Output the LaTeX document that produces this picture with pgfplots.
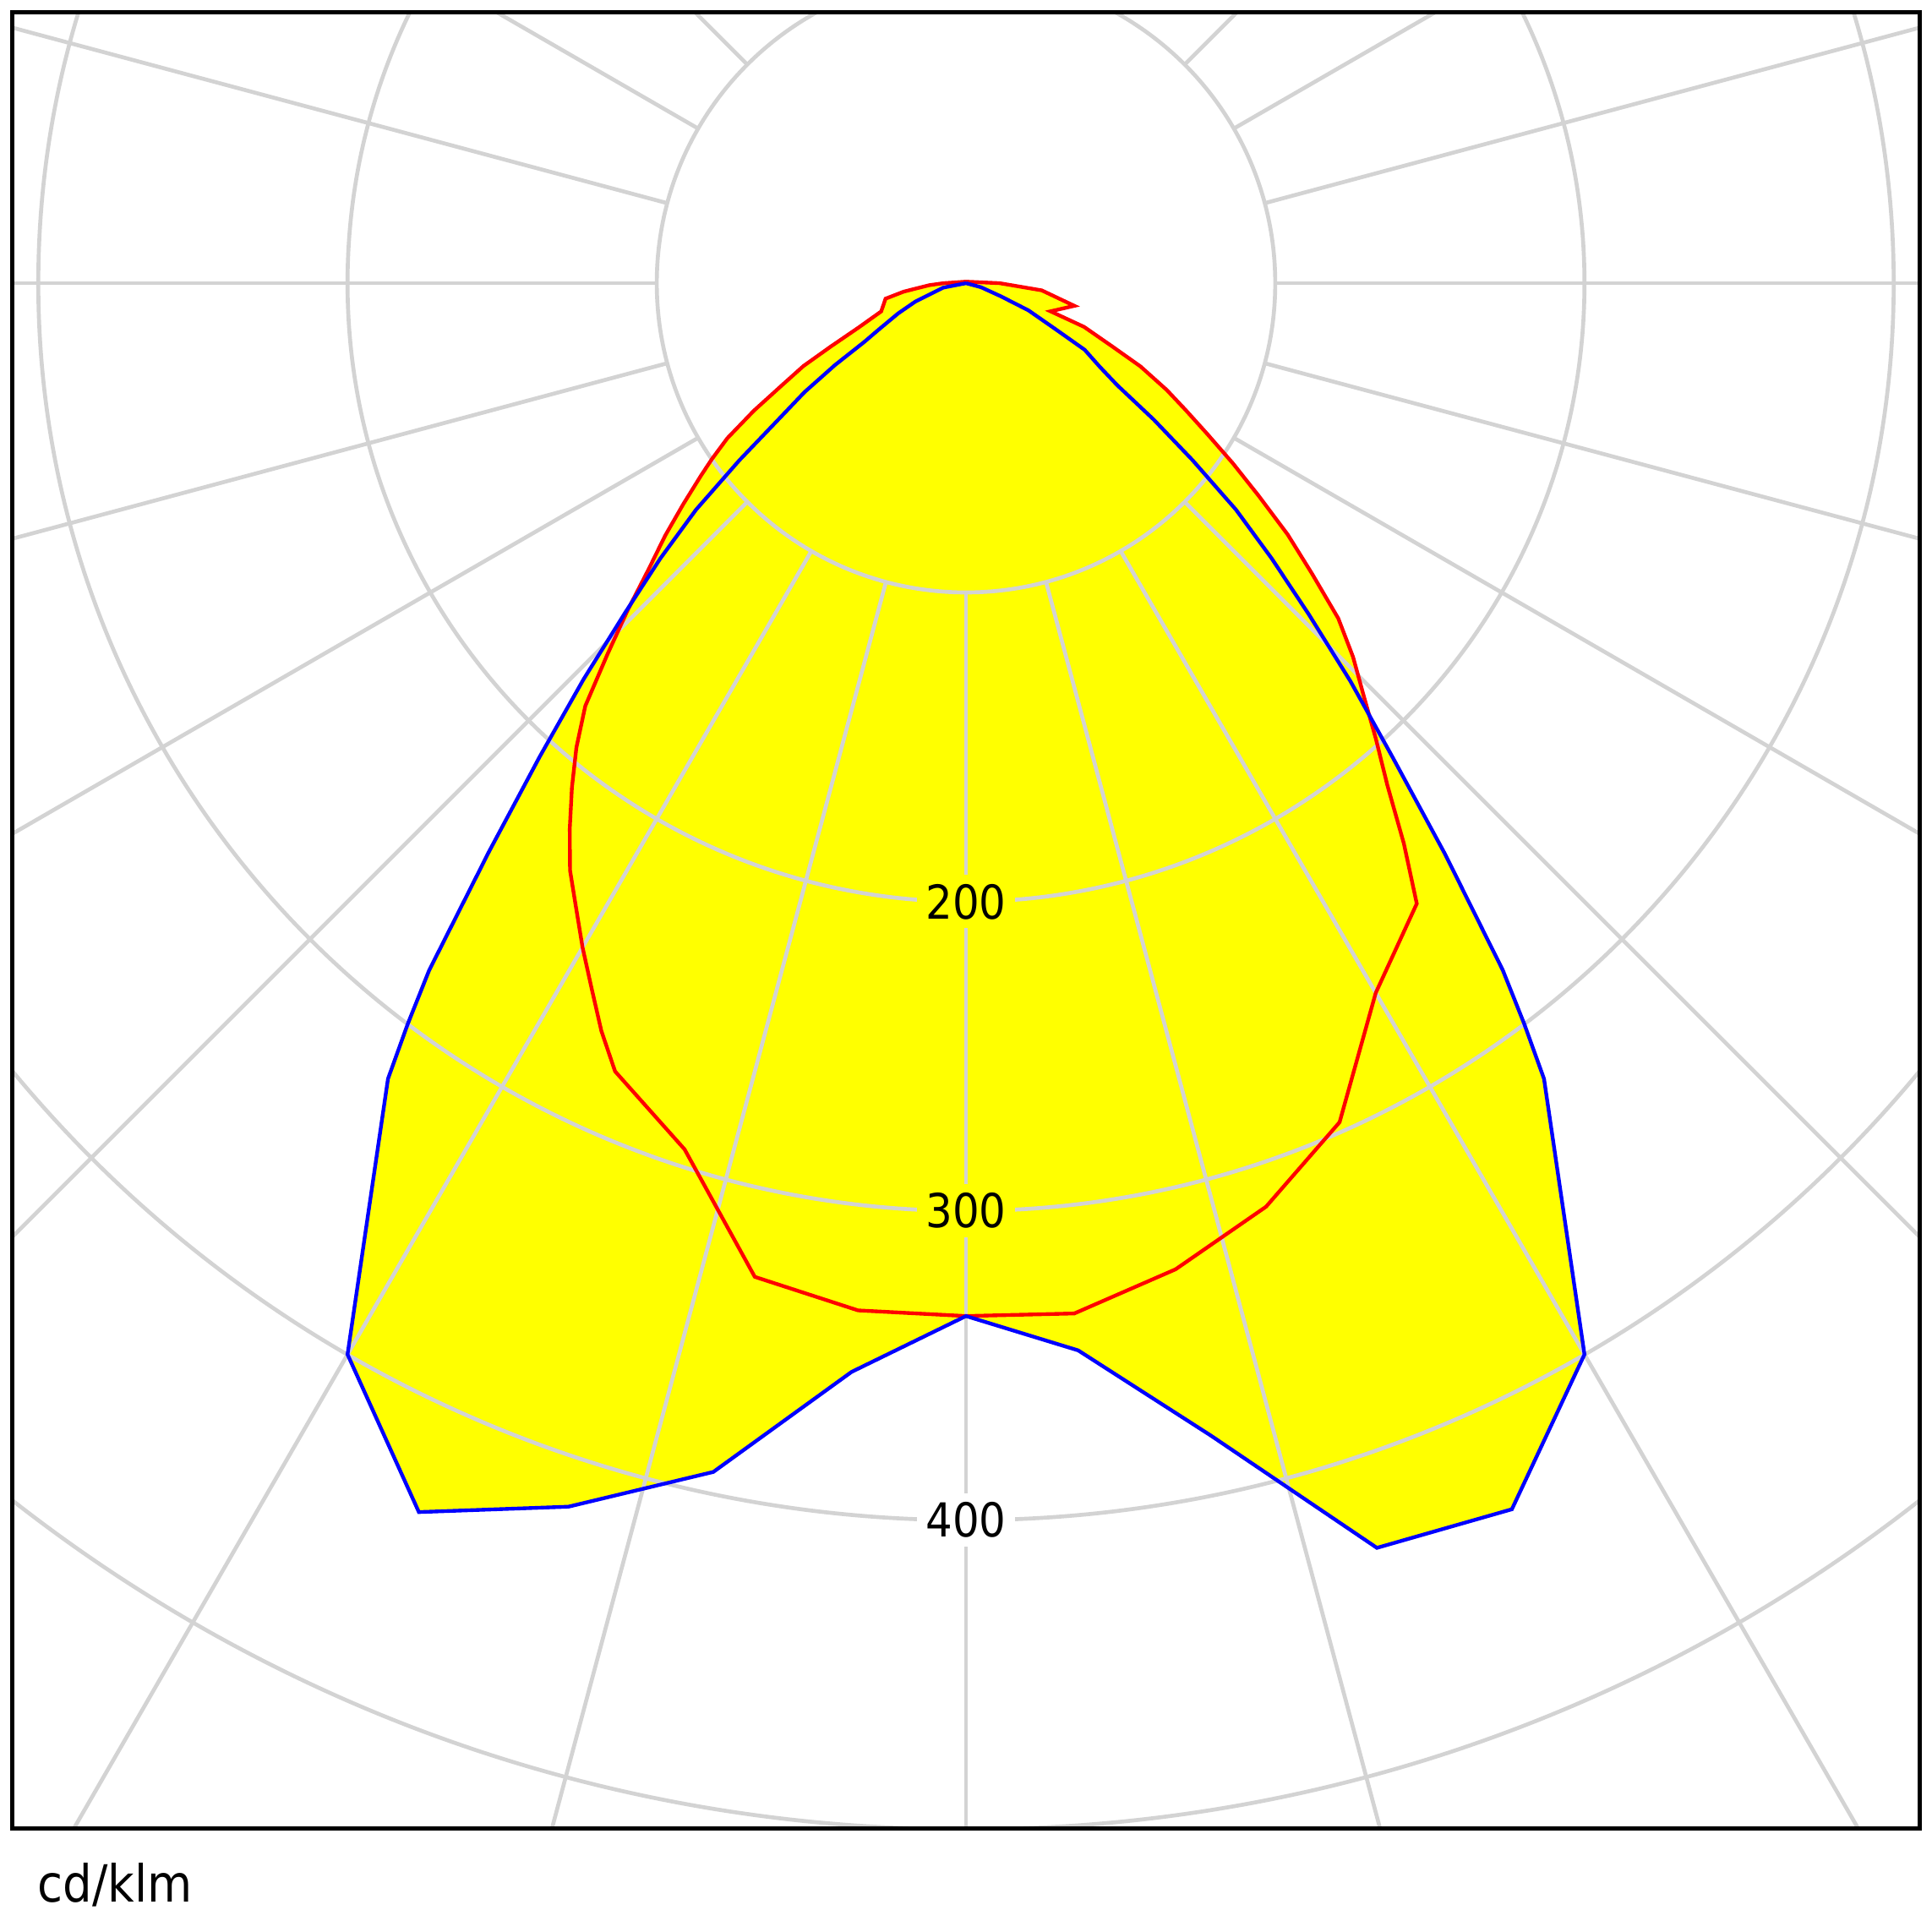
\documentclass[border=0pt]{standalone}
\usepackage{fontspec}
\setmainfont{DejaVu Sans Condensed}
\usepackage{pgfplots}
\pgfplotsset{compat=1.18}
\usepackage{pgfplotstable}
\definecolor{gridc}{RGB}{211,211,211}
\definecolor{yel}{RGB}{255,255,0}
\definecolor{rd}{RGB}{255,0,0}
\definecolor{bl}{RGB}{0,0,255}

% angle from nadir (negative = left half), intensity in cd/klm
\pgfplotstableread{
a r
-90 0
-79 7.5
-70 17.5
-66 24
-62 32
-60 38
-58 50
-56 63
-54 75
-52 93
-50 114
-48 133
-46 153
-44 178
-42 206
-40 240
-38 282
-37 300
-36 318
-30 400
-24 435
-18 416
-12 393
-6 354
0 334
6 347
12 381
18 430
24 434
30 400
36 318
37 300
38 282
40 241
42 206
44 179
46 154
48 133
50 114
52 93
54 75
56 59
58 51
60.7 44
62.7 33
66.5 22
69.4 12
75 5
90 0
}\blueC

\pgfplotstableread{
a r
-180 0.5
-90 7.3
-86.9 11.9
-82.3 20.3
-79.1 26.5
-71.6 28.9
-67.6 37.5
-64.9 48.3
-63 59
-61 68
-59 80
-57 92
-55.3 100
-54 106
-52 116
-50 127
-48 138
-46 152
-44 167
-42 184
-40 196
-38 207
-36 218
-34 229
-32 238
-30 248
-28 258
-26 269
-24 279
-18 294.5
-12 328.5
-6 334
0 334
6 335
12 326
18 314
24 297
30 265
36 248
38 230
40 212
42 198
44 185
46 174
48 162
50 146
52 132
54 117
56 104
58 92
60 82
62 73.5
64.5 62.5
66.6 51.6
69.7 40.7
71.6 28.8
78.2 35.8
84.6 24.6
90 10.9
180 0.5
}\redC

\begin{document}
\begin{tikzpicture}
\begin{axis}[
  x=0.6275pt, y=0.6275pt,
  xmin=-308.4, xmax=308.4, ymin=-499.7, ymax=87.6,
  xtick=\empty, ytick=\empty,
  axis line style={black, line width=0.9pt},
  axis on top,
  clip=true,
]
\addplot[fill=yel, draw=none] table[x expr={\thisrow{r}*sin(\thisrow{a})}, y expr={-\thisrow{r}*cos(\thisrow{a})}] {\blueC};
\addplot[fill=yel, draw=none] table[x expr={\thisrow{r}*sin(\thisrow{a})}, y expr={-\thisrow{r}*cos(\thisrow{a})}] {\redC};
\pgfplotsinvokeforeach{0,15,...,345}{
  \draw[gridc, line width=0.8pt] (axis cs:{100*sin(#1)},{-100*cos(#1)}) -- (axis cs:{900*sin(#1)},{-900*cos(#1)});
}
\pgfplotsinvokeforeach{100,200,300,400,500}{
  \draw[gridc, line width=0.8pt] (axis cs:0,0) circle[radius=#1*0.6275pt];
}
\node[fill=yel, inner sep=1.8pt, font=\fontsize{9.5}{11}\selectfont] at (axis cs:0,-200) {200};
\node[fill=yel, inner sep=1.8pt, font=\fontsize{9.5}{11}\selectfont] at (axis cs:0,-300) {300};
\node[fill=white, inner sep=1.8pt, font=\fontsize{9.5}{11}\selectfont] at (axis cs:0,-400) {400};
\addplot[rd, line width=0.75pt] table[x expr={\thisrow{r}*sin(\thisrow{a})}, y expr={-\thisrow{r}*cos(\thisrow{a})}] {\redC};
\addplot[bl, line width=0.75pt] table[x expr={\thisrow{r}*sin(\thisrow{a})}, y expr={-\thisrow{r}*cos(\thisrow{a})}] {\blueC};
\end{axis}
\pgfresetboundingbox
\useasboundingbox ([shift={(-2.5pt,-21pt)}]current axis.south west) rectangle ([shift={(2.5pt,2.5pt)}]current axis.north east);
\node[anchor=base west, inner sep=0pt, font=\fontsize{10.4}{12}\selectfont] at ([shift={(5pt,-15pt)}]current axis.south west) {cd/klm};
\end{tikzpicture}
\end{document}
